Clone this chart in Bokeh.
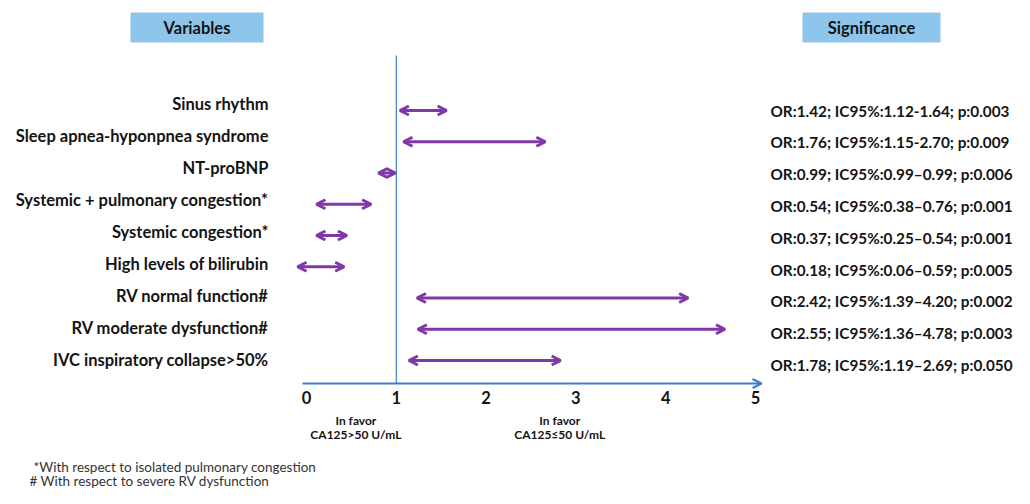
from bokeh.plotting import figure
from bokeh.models import Range1d, Arrow, OpenHead, ColumnDataSource
from bokeh.core.properties import value
from bokeh.embed import file_html
from bokeh.resources import INLINE

# ---------------- data ----------------
variables = [
    "Sinus rhythm",
    "Sleep apnea-hyponpnea syndrome",
    "NT-proBNP",
    "Systemic + pulmonary congestion*",
    "Systemic congestion*",
    "High levels of bilirubin",
    "RV normal function#",
    "RV moderate dysfunction#",
    "IVC inspiratory collapse>50%",
]
# arrow extents as drawn in the picture (odds-ratio scale)
arrow_lo = [1.04, 1.08, 0.80, 0.11, 0.11, -0.10, 1.23, 1.24, 1.14]
arrow_hi = [1.56, 2.66, 0.99, 0.72, 0.45, 0.42, 4.25, 4.66, 2.83]
significance = [
    "OR:1.42; IC95%:1.12-1.64; p:0.003",
    "OR:1.76; IC95%:1.15-2.70; p:0.009",
    "OR:0.99; IC95%:0.99\u20130.99; p:0.006",
    "OR:0.54; IC95%:0.38\u20130.76; p:0.001",
    "OR:0.37; IC95%:0.25\u20130.54; p:0.001",
    "OR:0.18; IC95%:0.06\u20130.59; p:0.005",
    "OR:2.42; IC95%:1.39\u20134.20; p:0.002",
    "OR:2.55; IC95%:1.36\u20134.78; p:0.003",
    "OR:1.78; IC95%:1.19\u20132.69; p:0.050",
]
tick_values = [0, 1, 2, 3, 4, 5]
tick_labels = ["0", "1", "2", "3", "4", "5"]
favor_x = [0.55, 2.82]
favor_line1 = ["In favor", "In favor"]
favor_line2 = ["CA125>50 U/mL", "CA125\u226450 U/mL"]
headers = ["Variables", "Significance"]
footnotes = ["*With respect to isolated pulmonary congestion",
             "# With respect to severe RV dysfunction"]

# ---------------- layout helpers ----------------
W, H = 1014, 488
X0_PX, UNIT_PX = 306, 89.8        # canvas px of x=0, px per unit
ROW0_PX, ROW_PX = 110, 31.25      # canvas px of first row, px per row


def xd(px):  # canvas px -> x data
    return (px - X0_PX) / UNIT_PX


def yd(py):  # canvas px -> row data
    return (py - ROW0_PX) / ROW_PX


p = figure(width=W, height=H, output_backend="svg", toolbar_location=None,
           x_range=Range1d(xd(0), xd(W)), y_range=Range1d(yd(H), yd(0)),
           min_border=0, tools="")
p.axis.visible = False
p.grid.visible = False
p.outline_line_color = None
p.background_fill_color = "white"

FONT = value("Lato")
TXT = "#141414"
PURPLE = "#8038A8"
BLUE = "#3D7CC9"

n = len(variables)
rows = list(range(n))

# header boxes
hdr_cx = [xd(196.5), xd(871)]
hdr_w = [(263 - 130) / UNIT_PX, (940 - 802) / UNIT_PX]
hdr_y = [yd(27)] * 2
p.rect(x=hdr_cx, y=hdr_y, width=hdr_w, height=30 / ROW_PX,
       fill_color="#8DC6EA", line_color=None)
p.text(x=hdr_cx, y=hdr_y, text=headers, text_align="center",
       text_baseline="middle", text_font=FONT, text_font_style="bold",
       text_font_size="16.5px", text_color=TXT)

# vertical reference line at OR = 1
p.segment(x0=[1], y0=[yd(55)], x1=[1], y1=[yd(383)],
          line_color=BLUE, line_width=1.2)

# x axis with arrow
axis_y = yd(383)
p.add_layout(Arrow(x_start=xd(302), y_start=axis_y, x_end=xd(761), y_end=axis_y,
                   line_color=BLUE, line_width=2.2,
                   end=OpenHead(size=9, line_color=BLUE, line_width=2.2)))
p.text(x=tick_values, y=[yd(397)] * len(tick_values), text=tick_labels,
       text_align="center", text_baseline="middle", text_font=FONT,
       text_font_style="bold", text_font_size="16.5px", text_color=TXT)
p.text(x=favor_x, y=[yd(420)] * 2, text=favor_line1, text_align="center",
       text_baseline="middle", text_font=FONT, text_font_style="bold",
       text_font_size="12px", text_color=TXT)
p.text(x=favor_x, y=[yd(434)] * 2, text=favor_line2, text_align="center",
       text_baseline="middle", text_font=FONT, text_font_style="bold",
       text_font_size="12px", text_color=TXT)

# variable labels
lab_y = [yd(103 + 32 * i) for i in rows]
p.text(x=[xd(268)] * n, y=lab_y, text=variables, text_align="right",
       text_baseline="middle", text_font=FONT, text_font_style="bold",
       text_font_size="16.5px", text_color=TXT)

# significance texts
sig_y = [yd(110 + 31.8 * i) for i in rows]
p.text(x=[xd(770)] * n, y=sig_y, text=significance, text_align="left",
       text_baseline="middle", text_font=FONT, text_font_style="bold",
       text_font_size="15.3px", text_color=TXT)

# double-headed arrows
src = ColumnDataSource(dict(lo=arrow_lo, hi=arrow_hi, y=rows))
p.add_layout(Arrow(x_start="lo", y_start="y", x_end="hi", y_end="y", source=src,
                   line_color=PURPLE, line_width=3,
                   start=OpenHead(size=9, line_color=PURPLE, line_width=3),
                   end=OpenHead(size=9, line_color=PURPLE, line_width=3)))

# footnotes
p.text(x=[xd(33), xd(29)], y=[yd(466), yd(480)], text=footnotes,
       text_align="left", text_baseline="middle", text_font=FONT,
       text_font_size="13.5px", text_color="#333333")

open("out.html", "w").write(file_html(p, INLINE))
